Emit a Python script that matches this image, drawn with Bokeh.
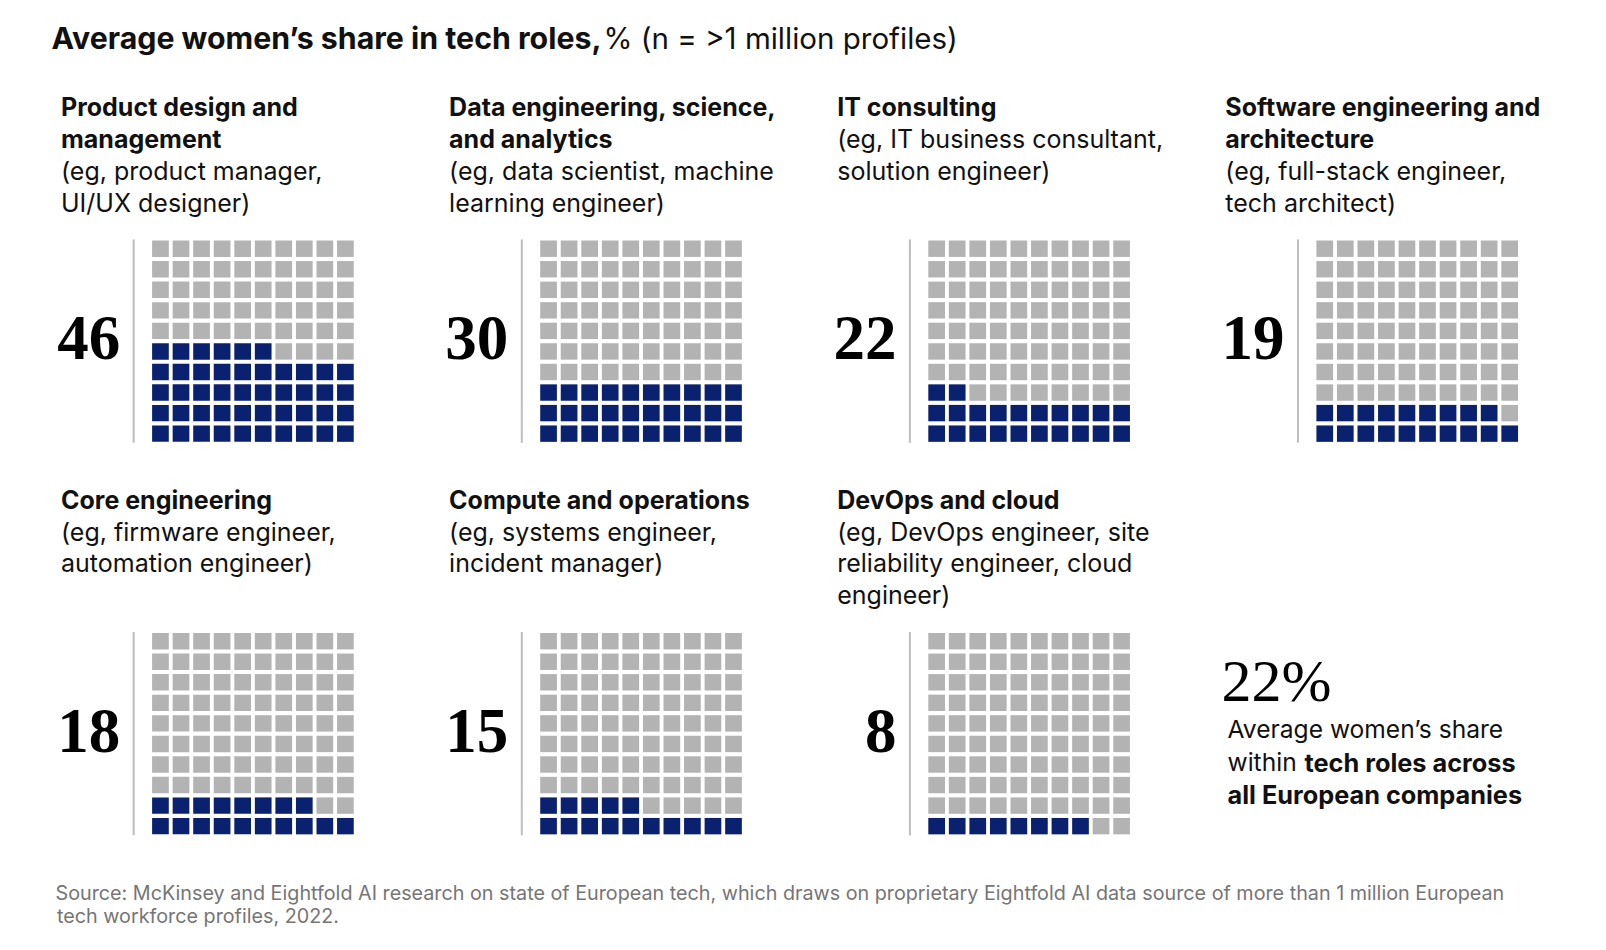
from bokeh.plotting import figure
from bokeh.models import Range1d, ColumnDataSource
from bokeh.core.properties import value
from bokeh.embed import file_html
from bokeh.resources import INLINE

# ---------------- data ----------------
role_titles = [
    ["Product design and", "management"],
    ["Data engineering, science,", "and analytics"],
    ["IT consulting"],
    ["Software engineering and", "architecture"],
    ["Core engineering"],
    ["Compute and operations"],
    ["DevOps and cloud"],
]
role_examples = [
    ["(eg, product manager,", "UI/UX designer)"],
    ["(eg, data scientist, machine", "learning engineer)"],
    ["(eg, IT business consultant,", "solution engineer)"],
    ["(eg, full-stack engineer,", "tech architect)"],
    ["(eg, firmware engineer,", "automation engineer)"],
    ["(eg, systems engineer,", "incident manager)"],
    ["(eg, DevOps engineer, site", "reliability engineer, cloud", "engineer)"],
]
women_share = [46, 30, 22, 19, 18, 15, 8]
overall_share = 22

title_bold = "Average women\u2019s share in tech roles,"
title_regular = "% (n = >1 million profiles)"
summary_lines = ["Average women\u2019s share", "within ", "tech roles across", "all European companies"]
source_lines = [
    "Source: McKinsey and Eightfold AI research on state of European tech, which draws on proprietary Eightfold AI data source of more than 1 million European",
    "tech workforce profiles, 2022.",
]

# ---------------- style / layout ----------------
SANS = "Inter"
SERIF = "Liberation Serif"
NAVY = "#0A2170"
GREY = "#B3B3B3"
RULE = "#BDBDBD"
INK = "#111111"

W, H = 1590, 934
p = figure(width=W, height=H, x_range=Range1d(0, W), y_range=Range1d(H, 0),
           output_backend="svg", toolbar_location=None, min_border=0,
           x_axis_type=None, y_axis_type=None)
p.grid.visible = False
p.outline_line_color = None
p.background_fill_color = "white"
p.border_fill_color = "white"


def by(baseline, size, k=0.37):
    """data y that puts the alphabetic baseline of text of this px size at `baseline`"""
    return baseline - k * size


COL_PITCH = 388.1
ROW_PITCH = 392.5
TEXT_X0 = 60.5
RULE_X0 = 133.2
GRID_X0 = 151.6
GRID_TOP0 = 240.0
CELL_PITCH = 20.55
CELL_W = 16.7
CELL_H = 16.4
LINE_H = 31.8
BASE0 = 116.0
PANEL_FS = 25
NUM_FS = 63
SERIF_K = 0.36

cx, cy, ccol = [], [], []
rx, ry0, ry1 = [], [], []
num_x, num_y, num_t = [], [], []
bt_x, bt_y, bt_t = [], [], []
rt_x, rt_y, rt_t = [], [], []

for i, share in enumerate(women_share):
    col, row = i % 4, i // 4
    tx = TEXT_X0 + col * COL_PITCH
    gx = GRID_X0 + col * COL_PITCH
    gt = GRID_TOP0 + row * ROW_PITCH
    lx = RULE_X0 + col * COL_PITCH
    base = BASE0 + row * ROW_PITCH
    k = 0
    for t in role_titles[i]:
        bt_x.append(tx); bt_y.append(by(base + k * LINE_H, PANEL_FS)); bt_t.append(t); k += 1
    for t in role_examples[i]:
        rt_x.append(tx); rt_y.append(by(base + k * LINE_H, PANEL_FS)); rt_t.append(t); k += 1
    for r in range(10):          # r = row from bottom
        for c in range(10):
            idx = r * 10 + c
            cx.append(gx + c * CELL_PITCH + CELL_W / 2)
            cy.append(gt + (9 - r) * CELL_PITCH + CELL_H / 2)
            ccol.append(NAVY if idx < share else GREY)
    rx.append(lx); ry0.append(gt - 1); ry1.append(gt + 9 * CELL_PITCH + CELL_H + 1)
    num_x.append(lx - 13.5); num_y.append(by(gt + 120.5, NUM_FS, SERIF_K)); num_t.append(str(share))

cells = ColumnDataSource(dict(x=cx, y=cy, c=ccol))
p.rect(x="x", y="y", width=CELL_W, height=CELL_H, fill_color="c", line_color=None, source=cells)
p.segment(x0=rx, y0=ry0, x1=rx, y1=ry1, line_color=RULE, line_width=2)

p.text(x=num_x, y=num_y, text=num_t, text_font=value(SERIF), text_font_style="bold",
       text_font_size=f"{NUM_FS}px", text_color="#000000", text_align="right", text_baseline="alphabetic")
p.text(x=bt_x, y=bt_y, text=bt_t, text_font=value(SANS), text_font_style="bold",
       text_font_size=f"{PANEL_FS}px", text_color=INK, text_baseline="alphabetic")
p.text(x=rt_x, y=rt_y, text=rt_t, text_font=value(SANS),
       text_font_size=f"{PANEL_FS}px", text_color=INK, text_baseline="alphabetic")

# title
TFS_B, TFS_R = 30.3, 29.5
p.text(x=[51], y=[by(48.5, TFS_B)], text=[title_bold], text_font=value(SANS), text_font_style="bold",
       text_font_size=f"{TFS_B}px", text_color=INK, text_baseline="alphabetic")
p.text(x=[603], y=[by(48.5, TFS_R)], text=[title_regular], text_font=value(SANS),
       text_font_size=f"{TFS_R}px", text_color=INK, text_baseline="alphabetic")

# summary
SFS_R, SFS_B = 24.6, 25.3
p.text(x=[1221], y=[by(702, 60, SERIF_K)], text=[f"{overall_share}%"], text_font=value(SERIF),
       text_font_size="60px", text_color="#000000", text_baseline="alphabetic")
p.text(x=[1227, 1227], y=[by(738, SFS_R), by(771, SFS_R)], text=[summary_lines[0], summary_lines[1]],
       text_font=value(SANS), text_font_size=f"{SFS_R}px", text_color=INK, text_baseline="alphabetic")
p.text(x=[1304, 1227], y=[by(771, SFS_B), by(803, SFS_B)], text=[summary_lines[2], summary_lines[3]],
       text_font=value(SANS), text_font_style="bold", text_font_size=f"{SFS_B}px", text_color=INK,
       text_baseline="alphabetic")

# source
FFS = 19.75
p.text(x=[55, 56.5], y=[by(900, FFS), by(923, FFS)], text=source_lines, text_font=value(SANS),
       text_font_size=f"{FFS}px", text_color="#757575", text_baseline="alphabetic")

open("out.html", "w").write(file_html(p, INLINE))
